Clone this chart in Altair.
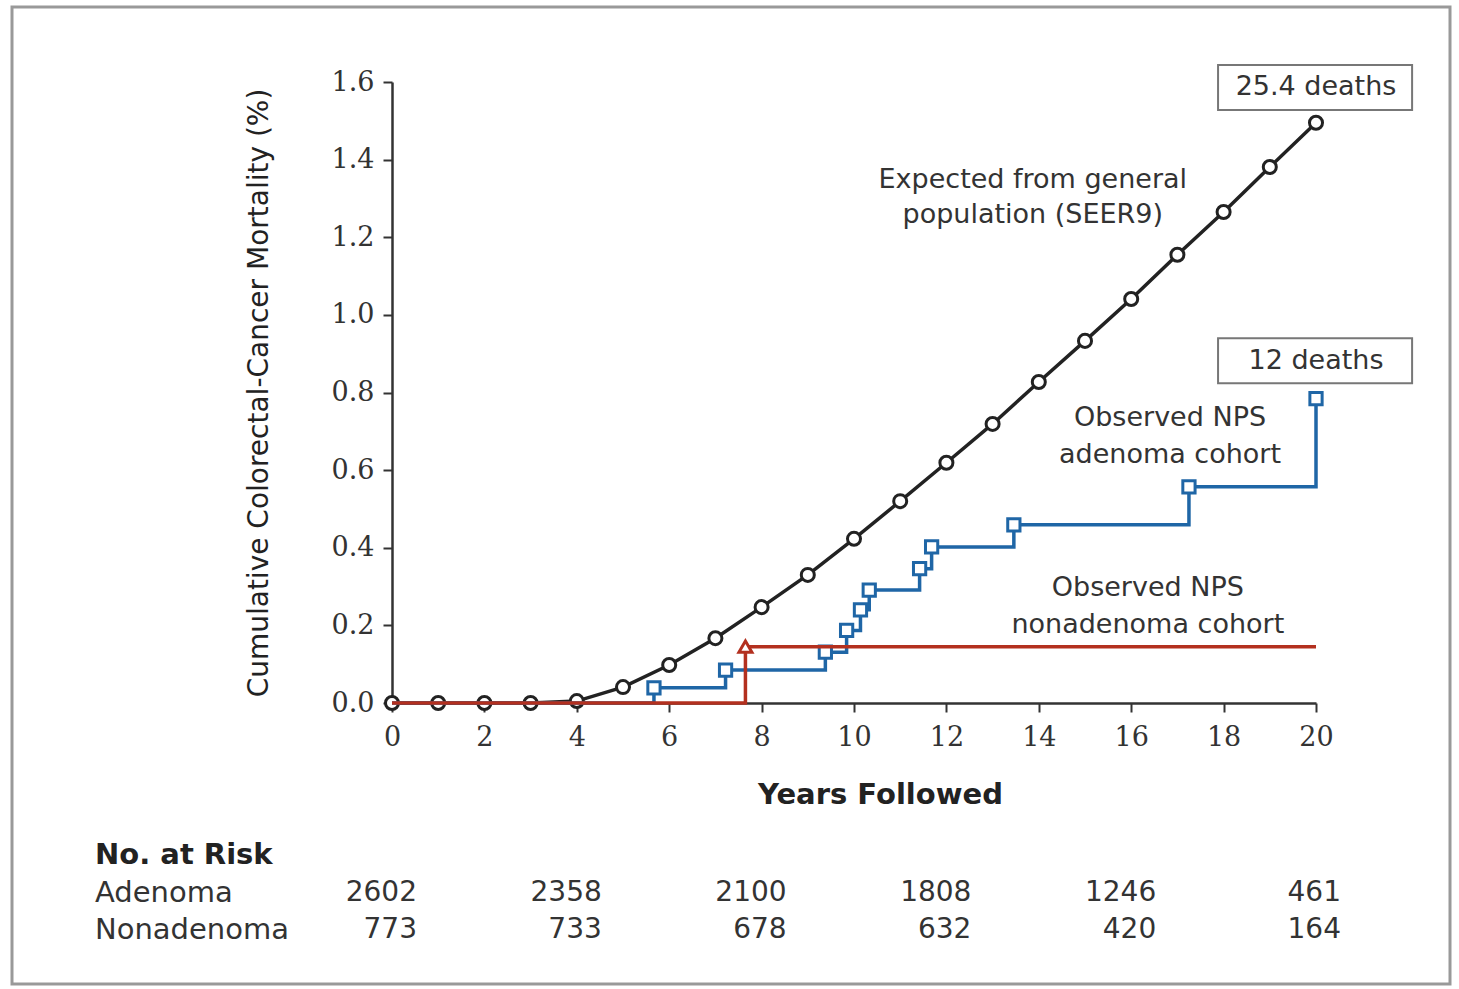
import altair as alt
import pandas as pd

# ---------------- data ----------------
exp_years = list(range(21))
exp_vals = [0, 0, 0, 0, 0.005, 0.041, 0.098, 0.167, 0.247, 0.33, 0.423, 0.52,
            0.619, 0.719, 0.827, 0.933, 1.041, 1.155, 1.265, 1.381, 1.495]

aden_years = [0, 5.67, 7.22, 9.38, 9.84, 10.14, 10.33, 11.42, 11.68, 13.46, 17.25, 20]
aden_vals = [0, 0.039, 0.085, 0.131, 0.187, 0.24, 0.291, 0.346, 0.402, 0.459, 0.557, 0.784]

nonaden_years = [0, 7.65, 20]
nonaden_vals = [0, 0.145, 0.145]

risk_years = [0, 4, 8, 12, 16, 20]
risk_adenoma = [2602, 2358, 2100, 1808, 1246, 461]
risk_nonadenoma = [773, 733, 678, 632, 420, 164]

note_text = ["Expected from general", "population (SEER9)",
             "Observed NPS", "adenoma cohort",
             "Observed NPS", "nonadenoma cohort"]
note_x = [13.87, 13.87, 16.84, 16.84, 16.36, 16.36]
note_y = [1.348, 1.257, 0.734, 0.639, 0.296, 0.201]

box_text = ["25.4 deaths", "12 deaths"]
box_x = [20, 20]
box_y = [1.586, 0.882]
box_x1 = [17.88, 17.88]
box_x2 = [22.08, 22.08]
box_y1 = [1.528, 0.824]
box_y2 = [1.644, 0.940]

# ---------------- style ----------------
SANS = "DejaVu Sans"
SERIF = "DejaVu Serif"
BLACK = "#222222"
BLUE = "#1f66a6"
RED = "#b3301f"
TXT = "#333333"

W, H = 924, 621
xs = alt.Scale(domain=[0, 20], nice=False, zero=False)
ys = alt.Scale(domain=[0, 1.6], nice=False)

x_axis = alt.Axis(values=list(range(0, 21, 2)), tickSize=9, tickWidth=2, tickColor="#333",
                  domainColor="#333", domainWidth=2.5, labelFont=SERIF, labelFontSize=27,
                  labelColor=TXT, labelPadding=12, labelFlush=False, grid=False,
                  title="Years Followed",
                  titleFont=SANS, titleFontSize=29, titleFontWeight="bold", titleColor=BLACK,
                  titleX=488, titleY=91, titleBaseline="middle", titleAlign="center")
y_axis = alt.Axis(values=[0, 0.2, 0.4, 0.6, 0.8, 1.0, 1.2, 1.4, 1.6], format=".1f",
                  tickSize=9, tickWidth=2, tickColor="#333", domainColor="#333",
                  domainWidth=2.5, labelFont=SERIF, labelFontSize=27, labelColor=TXT,
                  labelPadding=9, labelFlush=False, grid=False,
                  title="Cumulative Colorectal-Cancer Mortality (%)", titleFont=SANS,
                  titleFontSize=28, titleFontWeight="normal", titleColor=BLACK,
                  titlePadding=58)

exp_df = pd.DataFrame({"x": exp_years, "y": exp_vals})
aden_df = pd.DataFrame({"x": aden_years, "y": aden_vals})
non_df = pd.DataFrame({"x": nonaden_years, "y": nonaden_vals})

frame = alt.Chart(pd.DataFrame({"a": [0]})).mark_rect(
    fillOpacity=0, stroke="#999999", strokeWidth=3).encode(
    x=alt.value(-380), x2=alt.value(1058), y=alt.value(-75), y2=alt.value(902))

axes_layer = alt.Chart(exp_df).mark_point(opacity=0).encode(
    x=alt.X("x:Q", scale=xs, axis=x_axis),
    y=alt.Y("y:Q", scale=ys, axis=y_axis))

exp_line = alt.Chart(exp_df).mark_line(color=BLACK, strokeWidth=3.5).encode(
    x=alt.X("x:Q", scale=xs), y=alt.Y("y:Q", scale=ys))
exp_pts = alt.Chart(exp_df).mark_point(shape="circle", filled=True, fill="white",
                                       stroke=BLACK, strokeWidth=3, size=170,
                                       opacity=1).encode(
    x=alt.X("x:Q", scale=xs), y=alt.Y("y:Q", scale=ys))

aden_line = alt.Chart(aden_df).mark_line(color=BLUE, strokeWidth=3.5,
                                         interpolate="step-after").encode(
    x=alt.X("x:Q", scale=xs), y=alt.Y("y:Q", scale=ys))
aden_pts = alt.Chart(aden_df).transform_filter("datum.x > 0").mark_point(
    shape="square", filled=True, fill="white", stroke=BLUE, strokeWidth=3,
    size=150, opacity=1).encode(
    x=alt.X("x:Q", scale=xs), y=alt.Y("y:Q", scale=ys))

non_line = alt.Chart(non_df).mark_line(color=RED, strokeWidth=3.5,
                                       interpolate="step-after").encode(
    x=alt.X("x:Q", scale=xs), y=alt.Y("y:Q", scale=ys))
non_pts = alt.Chart(non_df).transform_filter("datum.x > 0 && datum.x < 20").mark_point(
    shape="triangle-up", filled=True, fill="white", stroke=RED, strokeWidth=3,
    size=170, opacity=1).encode(
    x=alt.X("x:Q", scale=xs), y=alt.Y("y:Q", scale=ys))

notes_df = pd.DataFrame({"t": note_text, "x": note_x, "y": note_y})
notes = alt.Chart(notes_df).mark_text(font=SANS, fontSize=27, color=TXT, align="center",
                                      baseline="middle").encode(
    x=alt.X("x:Q", scale=xs), y=alt.Y("y:Q", scale=ys), text="t:N")

box_df = pd.DataFrame({"t": box_text, "x": box_x, "y": box_y, "x1": box_x1,
                       "x2": box_x2, "y1": box_y1, "y2": box_y2})
boxes = alt.Chart(box_df).mark_rect(fill="white", stroke="#777777", strokeWidth=2).encode(
    x=alt.X("x1:Q", scale=xs), x2="x2:Q", y=alt.Y("y1:Q", scale=ys), y2="y2:Q")
box_txt = alt.Chart(box_df).mark_text(font=SANS, fontSize=27, color=TXT, align="center",
                                      baseline="middle").encode(
    x=alt.X("x:Q", scale=xs), y=alt.Y("y:Q", scale=ys), text="t:N")

# risk table
risk_labels = pd.DataFrame({"t": ["Adenoma", "Nonadenoma"], "py": [811, 848]})
risk_head = alt.Chart(pd.DataFrame({"t": ["No. at Risk"]})).mark_text(
    font=SANS, fontSize=29, fontWeight="bold", color=BLACK, align="left",
    baseline="middle").encode(x=alt.value(-297), y=alt.value(773), text="t:N")
risk_lab = alt.Chart(risk_labels).mark_text(
    font=SANS, fontSize=29, color=TXT, align="left", baseline="middle").encode(
    x=alt.value(-297), y=alt.Y("py:Q", scale=None), text="t:N")

risk_df = pd.DataFrame({"x": risk_years * 2,
                        "n": [str(v) for v in risk_adenoma + risk_nonadenoma],
                        "py": [811] * 6 + [848] * 6})
risk_nums = alt.Chart(risk_df).mark_text(
    font=SANS, fontSize=28, color=TXT, align="right", baseline="middle", dx=25).encode(
    x=alt.X("x:Q", scale=xs), y=alt.Y("py:Q", scale=None), text="n:N")

chart = alt.layer(
    frame, axes_layer, exp_line, exp_pts, aden_line, aden_pts, non_line, non_pts,
    notes, boxes, box_txt, risk_head, risk_lab, risk_nums
).properties(
    width=W, height=H,
    autosize=alt.AutoSizeParams(type="none"),
    padding={"left": 392, "top": 82, "right": 143, "bottom": 286},
    background="white",
).configure_view(strokeWidth=0)

chart.save("out.html", embed_options={"renderer": "svg", "actions": False})
